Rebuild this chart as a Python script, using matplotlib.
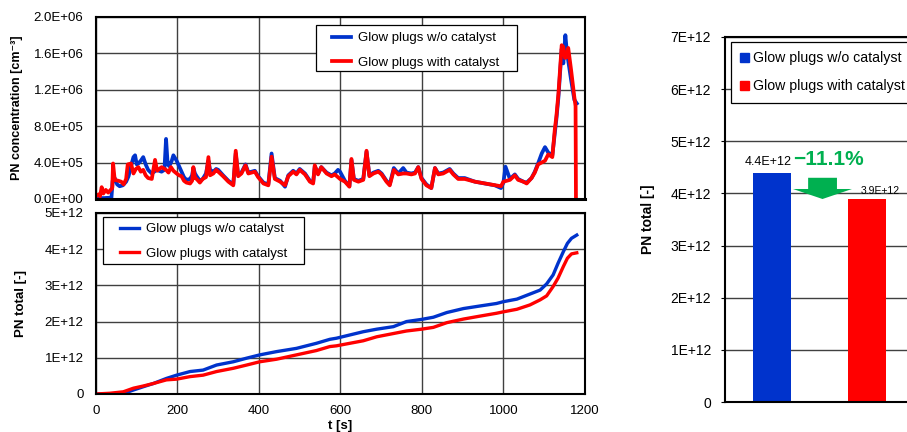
import matplotlib.pyplot as plt
from matplotlib.patches import Patch, Polygon, Rectangle
from matplotlib.ticker import FuncFormatter, MultipleLocator

plt.rcParams['font.family'] = ['Liberation Sans', 'DejaVu Sans']

# ---------- data ----------
labels = ["Glow plugs w/o catalyst", "Glow plugs with catalyst"]
colors = ["#0033CC", "#FF0000"]

# PN concentration [1e5 cm^-3]
t_conc_wo = [0, 20, 38, 41, 46, 52, 58, 66, 74, 80, 86, 92, 96, 100, 104, 110, 116, 122, 128, 137,
             149, 161, 168, 172, 176, 180, 186, 190, 198, 204, 210, 216, 222, 231, 236, 239, 243, 247, 255, 262,
             270, 276, 280, 288, 295, 300, 312, 325, 337, 343, 349, 357, 367, 374, 390, 398, 411, 423, 431, 439,
             452, 464, 472, 484, 492, 500, 513, 525, 533, 537, 545, 553, 566, 578, 586, 594, 599, 611, 622, 627,
             633, 644, 656, 664, 671, 681, 693, 701, 713, 721, 731, 742, 754, 762, 774, 783, 791, 799, 811, 823,
             832, 840, 852, 868, 877, 889, 905, 930, 955, 979, 994, 1000, 1005, 1016, 1028, 1036, 1049, 1057, 1069, 1077,
             1085, 1094, 1102, 1110, 1120, 1126, 1130, 1135, 1139, 1143, 1147, 1152, 1155, 1159, 1166, 1174, 1180]
pn_conc_wo = [0.1, 0.1, 0.15, 2.0, 2.3, 1.6, 1.4, 1.5, 1.9, 2.5, 3.6, 4.6, 4.8, 3.8, 3.9, 4.2, 4.6, 3.8, 3.2, 2.8,
              3.2, 3.0, 3.2, 6.6, 3.8, 3.6, 4.2, 4.8, 4.2, 3.6, 3.0, 2.4, 2.1, 2.2, 2.6, 3.4, 2.8, 2.5, 2.0, 2.2,
              2.8, 4.2, 3.2, 3.0, 3.3, 3.2, 2.6, 2.0, 1.6, 5.0, 2.6, 2.9, 3.8, 2.9, 3.1, 2.5, 1.8, 1.6, 5.0, 2.3,
              2.0, 1.35, 2.6, 3.1, 2.8, 3.3, 2.8, 2.0, 1.8, 3.6, 2.8, 3.5, 2.9, 2.6, 2.8, 3.2, 3.0, 2.0, 1.4, 4.3,
              2.2, 2.0, 2.2, 5.2, 2.6, 2.9, 3.1, 2.8, 2.0, 1.6, 3.4, 2.8, 3.4, 2.9, 2.8, 2.9, 3.5, 2.3, 1.6, 1.2,
              3.4, 2.8, 2.9, 3.3, 2.8, 2.3, 2.3, 1.9, 1.7, 1.5, 1.2, 1.8, 3.55, 2.2, 2.7, 2.2, 1.9, 1.8, 2.3, 3.0,
              3.9, 5.0, 5.7, 5.1, 4.8, 7.2, 8.8, 11.2, 13.8, 16.5, 14.9, 18.0, 16.5, 15.2, 13.1, 10.9, 10.5]

t_conc_cat = [0, 6, 10, 14, 18, 24, 30, 36, 40, 42, 46, 55, 62, 68, 74, 78, 86, 92, 98, 104,
              110, 116, 122, 128, 137, 145, 150, 161, 172, 178, 184, 190, 198, 204, 210, 216, 222, 231, 236, 239,
              243, 247, 255, 262, 270, 276, 280, 288, 295, 300, 312, 325, 337, 343, 349, 357, 367, 374, 390, 398,
              411, 423, 431, 439, 452, 464, 472, 484, 492, 500, 513, 525, 533, 537, 545, 553, 566, 578, 586, 599,
              611, 622, 627, 633, 644, 656, 664, 671, 681, 693, 701, 713, 721, 731, 742, 754, 762, 774, 783, 791,
              799, 811, 823, 832, 840, 852, 868, 877, 889, 905, 930, 955, 979, 994, 1000, 1016, 1028, 1036, 1049, 1057,
              1069, 1077, 1085, 1102, 1110, 1120, 1126, 1130, 1135, 1139, 1143, 1147, 1151, 1155, 1159, 1166, 1174, 1177,
              1178]
pn_conc_cat = [0.3, 0.5, 0.3, 1.3, 0.6, 1.0, 0.7, 1.0, 1.2, 3.9, 2.1, 2.0, 1.9, 1.6, 2.2, 3.8, 3.9, 2.8, 3.3, 3.5,
               3.0, 3.2, 2.6, 2.3, 2.2, 4.3, 3.1, 3.5, 3.2, 2.9, 3.5, 3.1, 2.8, 2.6, 2.5, 2.0, 1.8, 1.7, 2.0, 3.5,
               2.3, 2.2, 1.8, 2.2, 2.4, 4.6, 2.6, 2.8, 3.2, 3.0, 2.5, 1.9, 1.5, 5.3, 2.5, 2.8, 3.7, 2.8, 3.0, 2.4,
               1.7, 1.5, 4.65, 2.2, 1.9, 1.5, 2.5, 3.0, 2.7, 3.2, 2.7, 1.9, 1.7, 3.7, 2.7, 3.5, 2.8, 2.5, 2.7, 2.2,
               1.9, 1.35, 4.4, 2.1, 1.9, 2.1, 5.3, 2.5, 2.8, 3.0, 2.7, 1.9, 1.5, 3.2, 2.7, 2.8, 2.8, 2.7, 2.8, 3.5,
               2.2, 1.5, 1.2, 3.4, 2.7, 2.8, 3.2, 2.7, 2.2, 2.2, 1.9, 1.7, 1.5, 1.4, 1.9, 2.1, 2.6, 2.1, 1.9, 1.7,
               2.3, 2.9, 3.8, 4.2, 4.9, 4.6, 7.6, 9.1, 11.6, 14.2, 16.9, 16.7, 15.5, 15.6, 16.6, 14.2, 11.2, 10.2,
               0.0]

# cumulative PN [1e12]
t_total = [0, 34, 67, 92, 116, 141, 173, 198, 231, 263, 296, 337, 370, 402, 443, 492, 541, 574, 590, 623,
           656, 689, 730, 762, 799, 828, 861, 902, 942, 983, 1000, 1033, 1065, 1090, 1106, 1122, 1134, 1147, 1157,
           1167, 1180]
pn_total_wo = [0, 0, 0.01, 0.11, 0.2, 0.29, 0.43, 0.52, 0.62, 0.66, 0.8, 0.89, 0.99, 1.08, 1.17, 1.26, 1.4, 1.51,
               1.54, 1.63, 1.72, 1.79, 1.86, 2.0, 2.06, 2.12, 2.25, 2.36, 2.43, 2.5, 2.55, 2.62, 2.76, 2.87, 3.04,
               3.29, 3.61, 3.93, 4.16, 4.3, 4.39]
pn_total_cat = [0, 0.02, 0.06, 0.16, 0.22, 0.29, 0.39, 0.41, 0.48, 0.52, 0.62, 0.71, 0.8, 0.89, 0.96, 1.08, 1.2,
                1.31, 1.33, 1.40, 1.47, 1.58, 1.67, 1.74, 1.79, 1.84, 1.97, 2.07, 2.15, 2.23, 2.27, 2.34, 2.46, 2.6,
                2.71, 2.97, 3.2, 3.52, 3.75, 3.87, 3.9]

# totals for the bar chart
bar_values = [4.4e12, 3.9e12]
reduction_text = "\u221211.1%"

# ---------- figure ----------
fig = plt.figure(figsize=(9.07, 4.32), dpi=100)
ax1 = fig.add_axes([0.1058, 0.5394, 0.5391, 0.4213])
ax2 = fig.add_axes([0.1058, 0.088, 0.5391, 0.419])
ax3 = fig.add_axes([0.7993, 0.0694, 0.3126, 0.845])

fs = 9.5
grid_kw = dict(color="#404040", linewidth=1.0)


def sci1(v, pos):
    return f"{v:.1E}"


def sci0(v, pos):
    return "0" if v == 0 else f"{v:.0E}"


def style_axes(ax):
    for s in ax.spines.values():
        s.set_linewidth(1.5)
        s.set_color("black")
    ax.tick_params(labelsize=fs, length=0)
    ax.tick_params(axis="y", pad=9)
    ax.tick_params(axis="x", pad=8)
    ax.grid(True, **grid_kw)
    ax.set_axisbelow(True)


def boxed_legend(ax, handles, box, anchor):
    # legend without its own frame, boxed by a plain rectangle
    x0, y0, x1, y1 = box
    ax.add_patch(Rectangle((x0, y0), x1 - x0, y1 - y0, transform=ax.transAxes, facecolor="white",
                           edgecolor="black", linewidth=0.9, zorder=4))
    lg = ax.legend(handles=handles, loc="upper left", bbox_to_anchor=anchor, fontsize=fs,
                   frameon=False, borderpad=0, borderaxespad=0, handlelength=1.45,
                   handletextpad=0.55, labelspacing=0.92)
    lg.set_zorder(5)
    return lg


# PN concentration
l1, = ax1.plot(t_conc_wo, [v * 1e5 for v in pn_conc_wo], color=colors[0], lw=2.7, label=labels[0])
l2, = ax1.plot(t_conc_cat, [v * 1e5 for v in pn_conc_cat], color=colors[1], lw=2.7, label=labels[1])
ax1.set_xlim(0, 1200)
ax1.set_ylim(0, 2e6)
ax1.xaxis.set_major_locator(MultipleLocator(200))
ax1.yaxis.set_major_locator(MultipleLocator(4e5))
ax1.yaxis.set_major_formatter(FuncFormatter(sci1))
style_axes(ax1)
ax1.tick_params(axis="x", labelbottom=False)
ax1.spines["bottom"].set_linewidth(2.2)
ax1.set_ylabel("PN concentration [cm\u207b\u00b3]", fontsize=9, fontweight="bold")
ax1.yaxis.set_label_coords(-0.149, 0.5)
boxed_legend(ax1, [l1, l2], (0.45, 0.703, 0.861, 0.956), (0.4826, 0.918))

# cumulative PN
m1, = ax2.plot(t_total, [v * 1e12 for v in pn_total_wo], color=colors[0], lw=2.4, label=labels[0])
m2, = ax2.plot(t_total, [v * 1e12 for v in pn_total_cat], color=colors[1], lw=2.4, label=labels[1])
ax2.set_xlim(0, 1200)
ax2.set_ylim(0, 5e12)
ax2.xaxis.set_major_locator(MultipleLocator(200))
ax2.yaxis.set_major_locator(MultipleLocator(1e12))
ax2.yaxis.set_major_formatter(FuncFormatter(sci0))
ax2.yaxis.get_offset_text().set_visible(False)
style_axes(ax2)
ax2.set_ylabel("PN total [-]", fontsize=fs, fontweight="bold")
ax2.yaxis.set_label_coords(-0.141, 0.5)
ax2.set_xlabel("t [s]", fontsize=fs, fontweight="bold", labelpad=2)
boxed_legend(ax2, [m1, m2], (0.0143, 0.718, 0.4254, 0.978), (0.049, 0.944))

# bar chart of totals
xpos = [0, 1]
ax3.bar(xpos, bar_values, width=0.4, color=colors, zorder=2)
ax3.set_xlim(-0.5, 2.5)
ax3.set_ylim(0, 7e12)
ax3.set_xticks([])
ax3.yaxis.set_major_locator(MultipleLocator(1e12))
ax3.yaxis.set_major_formatter(FuncFormatter(sci0))
ax3.yaxis.get_offset_text().set_visible(False)
for s in ax3.spines.values():
    s.set_linewidth(1.5)
ax3.tick_params(axis="y", labelsize=10, length=3, pad=7)
ax3.grid(True, axis="y", **grid_kw)
ax3.set_axisbelow(True)
ax3.set_ylabel("PN total [-]", fontsize=10, fontweight="bold")
ax3.yaxis.set_label_coords(-0.247, 0.5)
lg3 = ax3.legend(handles=[Patch(color=colors[0], label=labels[0]), Patch(color=colors[1], label=labels[1])],
                 loc="upper left", bbox_to_anchor=(0.021, 0.986), fontsize=10.2, frameon=True,
                 fancybox=False, framealpha=1, edgecolor="black", borderaxespad=0, borderpad=0.65,
                 handlelength=0.6, handleheight=0.6, handletextpad=0.3, labelspacing=1.0)
lg3.get_frame().set_linewidth(0.9)

ax3.text(xpos[0] - 0.04, bar_values[0] + 0.08e12, f"{bar_values[0]:.1E}", ha="center", va="bottom", fontsize=9)
ax3.text(xpos[1] + 0.14, bar_values[1] + 0.06e12, f"{bar_values[1]:.1E}", ha="center", va="bottom", fontsize=7.5)
ax3.text(0.6, 4.66e12, reduction_text, ha="center", va="center", fontsize=15, fontweight="bold", color="#00B050")

# green down arrow between the bars
arrow = Polygon([(0.38, 4.30e12), (0.685, 4.30e12), (0.685, 4.085e12), (0.844, 4.085e12),
                 (0.532, 3.893e12), (0.22, 4.085e12), (0.38, 4.085e12)],
                closed=True, facecolor="#00B050", edgecolor="none", zorder=3)
ax3.add_patch(arrow)

fig.savefig("out.png", dpi=100)
